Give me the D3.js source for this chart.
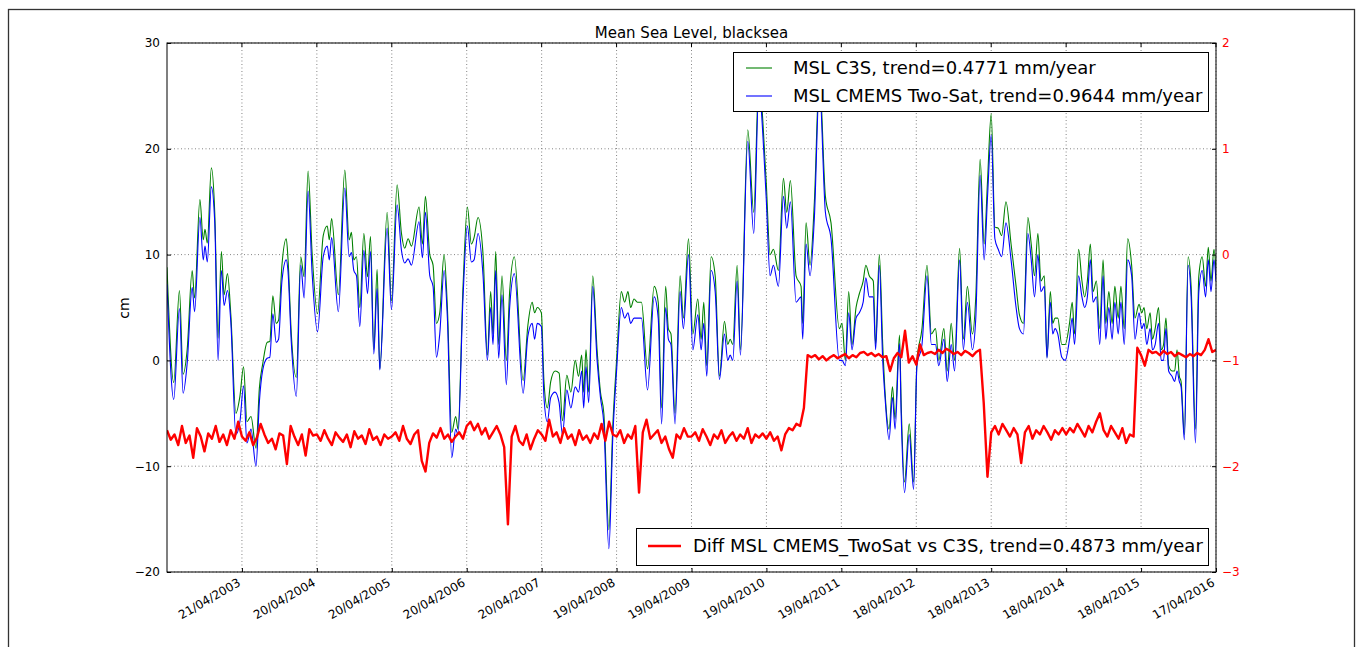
<!DOCTYPE html>
<html>
<head>
<meta charset="utf-8">
<script src="https://cdn.jsdelivr.net/npm/d3@7"></script>
<style>
  body { margin: 0; background: #ffffff; }
  text { font-family: 'DejaVu Sans', sans-serif; }
</style>
</head>
<body>
<div class="graph"></div>
<script>
// Time axis: first day and last day of the series, ticks every 365 days
const startLabel = '21/04/2002'
const endLabel = '17/04/2016'
const tickLabels = ['21/04/2003', '20/04/2004', '20/04/2005', '20/04/2006', '20/04/2007',
  '19/04/2008', '19/04/2009', '19/04/2010', '19/04/2011', '18/04/2012',
  '18/04/2013', '18/04/2014', '18/04/2015', '17/04/2016']
const cmTicks = [-20, -10, 0, 10, 20, 30]
const diffTicks = [-3, -2, -1, 0, 1, 2]

// [years of 365 days since start, cm]
const c3sData = [
  [0.000, 8.8], [0.090, -2.1], [0.166, 6.6], [0.215, -1.3], [0.269, 1.0], [0.336, 8.5], [0.368, 5.9],
  [0.439, 15.2], [0.484, 11.4], [0.507, 12.4], [0.538, 11.1], [0.592, 18.2], [0.637, 14.0], [0.682, 2.1],
  [0.726, 10.3], [0.762, 6.2], [0.807, 8.2], [0.852, 4.3], [0.919, -5.0], [0.973, -3.4], [1.022, -0.6],
  [1.067, -5.8], [1.121, -5.3], [1.188, -8.3], [1.233, -2.6], [1.278, -0.3], [1.336, 1.7], [1.372, 1.8],
  [1.413, 6.1], [1.457, 3.5], [1.489, 3.8], [1.534, 9.0], [1.592, 11.5], [1.614, 9.7], [1.659, 2.5],
  [1.726, -1.6], [1.785, 9.8], [1.830, 7.9], [1.883, 17.9], [1.937, 10.1], [2.009, 4.4], [2.085, 11.8],
  [2.139, 12.7], [2.166, 11.4], [2.197, 13.4], [2.287, 6.2], [2.373, 18.0], [2.431, 11.4], [2.462, 12.1],
  [2.493, 9.5], [2.529, 9.8], [2.573, 5.0], [2.627, 12.0], [2.676, 7.9], [2.716, 11.7], [2.760, 1.0],
  [2.804, 8.6], [2.840, -0.8], [2.938, 14.0], [2.996, 5.6], [3.071, 16.6], [3.129, 12.0], [3.173, 10.6],
  [3.218, 11.5], [3.262, 10.8], [3.364, 14.5], [3.409, 11.0], [3.449, 15.5], [3.507, 10.0], [3.551, 9.0],
  [3.596, 3.5], [3.640, 4.5], [3.698, 10.0], [3.742, 5.0], [3.800, -6.8], [3.853, -5.3], [3.884, -6.5],
  [3.951, 7.0], [4.009, 14.5], [4.062, 11.0], [4.098, 11.6], [4.151, 13.5], [4.218, 10.0], [4.276, 0.5],
  [4.320, 6.5], [4.351, 2.5], [4.387, 10.3], [4.427, 1.5], [4.471, 8.0], [4.529, 0.0], [4.573, 6.5],
  [4.636, 9.8], [4.753, -1.9], [4.816, 3.3], [4.874, 5.5], [4.906, 4.5], [4.942, 5.0], [4.996, 4.5],
  [5.031, -2.0], [5.076, -4.5], [5.121, -2.0], [5.179, -1.0], [5.233, -1.2], [5.278, -5.7], [5.336, -1.4],
  [5.390, -3.0], [5.448, 0.0], [5.493, -1.5], [5.534, 0.5], [5.561, -3.0], [5.592, 1.0], [5.628, -3.0],
  [5.682, 8.0], [5.740, 1.0], [5.785, -3.0], [5.830, -5.0], [5.897, -16.0], [5.951, -6.0], [6.000, 0.0],
  [6.063, 6.5], [6.108, 5.5], [6.152, 6.5], [6.188, 5.0], [6.233, 5.8], [6.278, 5.5], [6.332, 5.5],
  [6.413, -0.8], [6.502, 7.0], [6.556, 5.5], [6.601, -4.5], [6.655, 7.0], [6.691, 3.0], [6.726, 2.5],
  [6.780, -5.0], [6.848, 8.0], [6.892, 4.0], [6.960, 11.5], [7.018, 2.5], [7.084, 5.8], [7.129, 2.0],
  [7.164, 5.5], [7.204, -0.5], [7.262, 9.8], [7.316, 8.0], [7.373, -1.5], [7.440, 3.7], [7.484, 1.5],
  [7.516, 2.0], [7.551, 1.5], [7.609, 9.0], [7.653, 1.0], [7.751, 21.8], [7.831, 14.0], [7.898, 26.5],
  [7.996, 17.0], [8.049, 10.0], [8.093, 10.5], [8.160, 8.5], [8.227, 17.2], [8.271, 14.0], [8.320, 17.0],
  [8.396, 8.0], [8.462, 7.0], [8.484, 3.5], [8.529, 13.0], [8.582, 9.0], [8.640, 15.0], [8.707, 27.0],
  [8.787, 15.5], [8.862, 13.0], [8.973, 3.0], [9.009, 3.5], [9.053, 0.0], [9.098, 6.5], [9.142, 1.5],
  [9.196, 5.0], [9.240, 6.3], [9.291, 7.5], [9.327, 9.0], [9.372, 8.0], [9.426, 7.5], [9.457, 1.5],
  [9.507, 10.0], [9.552, 1.5], [9.583, -3.0], [9.637, -6.5], [9.682, -2.5], [9.717, -5.5], [9.776, 2.4],
  [9.798, -4.0], [9.843, -11.5], [9.906, -6.0], [9.964, -11.5], [10.009, 0.0], [10.076, 3.0], [10.143, 9.0],
  [10.202, 2.5], [10.256, 3.0], [10.300, 0.0], [10.368, 3.0], [10.413, -1.0], [10.466, 3.5], [10.511, 0.0],
  [10.578, 10.6], [10.628, 2.0], [10.682, 7.0], [10.749, 2.5], [10.794, 6.0], [10.852, 19.0], [10.906, 11.0],
  [10.951, 17.0], [11.000, 23.3], [11.049, 12.6], [11.094, 12.5], [11.139, 11.8], [11.197, 15.0], [11.265, 11.0],
  [11.332, 7.0], [11.377, 4.3], [11.430, 3.5], [11.489, 13.5], [11.534, 11.0], [11.578, 8.0], [11.623, 12.0],
  [11.664, 7.5], [11.709, 8.0], [11.744, 0.3], [11.789, 6.5], [11.821, 3.5], [11.852, 4.0], [11.888, 4.0],
  [11.942, 1.5], [11.987, 1.5], [12.045, 3.5], [12.081, 5.5], [12.112, 2.5], [12.166, 10.5], [12.211, 7.5],
  [12.247, 6.0], [12.283, 7.5], [12.323, 11.0], [12.359, 6.5], [12.404, 7.5], [12.448, 3.0], [12.493, 9.5],
  [12.529, 3.5], [12.570, 6.5], [12.614, 3.5], [12.650, 7.0], [12.695, 4.0], [12.731, 7.0], [12.776, 3.0],
  [12.821, 11.5], [12.874, 9.0], [12.919, 4.0], [12.973, 5.3], [13.009, 4.5], [13.040, 5.0], [13.076, 3.0],
  [13.121, 4.5], [13.152, 2.0], [13.188, 3.0], [13.233, 5.0], [13.269, 1.0], [13.300, 1.5], [13.332, 4.0],
  [13.368, -0.5], [13.413, -1.0], [13.448, -1.0], [13.480, 1.0], [13.511, -1.5], [13.534, -2.0], [13.578, -7.0],
  [13.628, 9.8], [13.668, 7.0], [13.726, -6.5], [13.771, 8.0], [13.816, 9.8], [13.861, 7.0], [13.897, 10.7],
  [13.933, 7.5], [13.973, 10.5], [14.000, 8.5]
]

const cmemsData = [
  [0.000, 7.2], [0.090, -3.7], [0.166, 4.9], [0.215, -3.1], [0.269, -0.3], [0.336, 6.9], [0.368, 4.6],
  [0.439, 13.5], [0.484, 9.5], [0.507, 10.8], [0.538, 9.3], [0.592, 16.4], [0.637, 13.1], [0.682, 0.0],
  [0.726, 8.5], [0.762, 5.2], [0.807, 6.6], [0.852, 3.6], [0.919, -7.0], [0.973, -5.8], [1.022, -2.4],
  [1.067, -7.8], [1.121, -6.5], [1.188, -10.0], [1.233, -3.9], [1.278, -0.9], [1.336, 0.2], [1.372, 0.3],
  [1.413, 4.4], [1.457, 1.7], [1.489, 2.0], [1.534, 7.5], [1.592, 9.5], [1.614, 8.5], [1.659, 1.7],
  [1.726, -3.4], [1.785, 9.0], [1.830, 5.9], [1.883, 16.0], [1.937, 8.2], [2.009, 2.7], [2.085, 9.8],
  [2.139, 10.8], [2.166, 9.5], [2.197, 11.6], [2.287, 4.6], [2.373, 16.3], [2.431, 9.8], [2.462, 10.2],
  [2.493, 8.5], [2.529, 8.0], [2.573, 3.2], [2.627, 10.4], [2.676, 6.3], [2.716, 10.3], [2.760, 0.6],
  [2.804, 6.8], [2.840, -0.9], [2.938, 12.5], [2.996, 4.8], [3.071, 14.7], [3.129, 10.4], [3.173, 9.2],
  [3.218, 9.6], [3.262, 9.0], [3.364, 13.1], [3.409, 9.7], [3.449, 14.0], [3.507, 8.0], [3.551, 7.0],
  [3.596, 0.3], [3.640, 2.5], [3.698, 8.5], [3.742, 4.0], [3.800, -9.2], [3.853, -6.5], [3.884, -7.0],
  [3.951, 6.0], [4.009, 12.7], [4.062, 9.3], [4.098, 9.5], [4.151, 12.0], [4.218, 8.0], [4.276, 0.0],
  [4.320, 5.0], [4.351, 1.5], [4.387, 8.5], [4.427, 0.2], [4.471, 6.2], [4.529, -2.3], [4.573, 5.0],
  [4.636, 8.2], [4.753, -3.1], [4.816, 2.3], [4.874, 3.5], [4.906, 2.0], [4.942, 3.5], [4.996, 3.2],
  [5.031, -3.5], [5.076, -5.8], [5.121, -3.5], [5.179, -3.0], [5.233, -4.0], [5.278, -7.0], [5.336, -2.8],
  [5.390, -4.5], [5.448, -2.5], [5.493, -3.0], [5.534, -1.0], [5.561, -4.5], [5.592, -0.6], [5.628, -4.0],
  [5.682, 7.0], [5.740, 0.0], [5.785, -3.5], [5.830, -6.0], [5.897, -17.8], [5.951, -7.0], [6.000, -1.0],
  [6.063, 5.0], [6.108, 4.0], [6.152, 4.5], [6.188, 3.5], [6.233, 4.0], [6.278, 4.0], [6.332, 4.0],
  [6.413, -2.8], [6.502, 6.0], [6.556, 4.0], [6.601, -6.0], [6.655, 5.0], [6.691, 2.0], [6.726, 1.5],
  [6.780, -6.0], [6.848, 6.5], [6.892, 3.0], [6.960, 10.0], [7.018, 1.0], [7.084, 4.3], [7.129, 1.0],
  [7.164, 3.5], [7.204, -1.5], [7.262, 8.5], [7.316, 6.5], [7.373, -1.8], [7.440, 2.5], [7.484, 0.0],
  [7.516, 0.5], [7.551, 0.0], [7.609, 7.5], [7.653, 0.5], [7.751, 20.7], [7.831, 12.0], [7.898, 25.5],
  [7.996, 15.5], [8.049, 8.0], [8.093, 9.0], [8.160, 7.0], [8.227, 15.5], [8.271, 12.5], [8.320, 15.0],
  [8.396, 5.5], [8.462, 6.0], [8.484, 2.0], [8.529, 11.0], [8.582, 8.0], [8.640, 13.5], [8.707, 26.0],
  [8.787, 14.0], [8.862, 11.5], [8.973, 0.0], [9.009, 0.0], [9.053, -0.5], [9.098, 4.5], [9.142, 1.0],
  [9.196, 4.0], [9.240, 4.5], [9.291, 5.5], [9.327, 7.8], [9.372, 6.0], [9.426, 6.0], [9.457, 1.0],
  [9.507, 9.0], [9.552, 0.0], [9.583, -3.5], [9.637, -7.5], [9.682, -3.5], [9.717, -6.5], [9.776, 1.6],
  [9.798, -5.0], [9.843, -12.5], [9.906, -7.0], [9.964, -12.2], [10.009, -0.5], [10.076, 1.5], [10.143, 8.0],
  [10.202, 1.5], [10.256, 1.5], [10.300, -0.5], [10.368, 2.0], [10.413, -2.0], [10.466, 1.5], [10.511, -1.0],
  [10.578, 9.5], [10.628, 1.0], [10.682, 5.5], [10.749, 1.0], [10.794, 4.0], [10.852, 17.5], [10.906, 9.5],
  [10.951, 15.5], [11.000, 21.3], [11.049, 11.5], [11.094, 10.5], [11.139, 9.8], [11.197, 13.0], [11.265, 9.5],
  [11.332, 5.0], [11.377, 3.0], [11.430, 2.5], [11.489, 12.0], [11.534, 9.5], [11.578, 6.0], [11.623, 10.0],
  [11.664, 6.5], [11.709, 7.0], [11.744, 0.2], [11.789, 5.5], [11.821, 2.5], [11.852, 3.0], [11.888, 2.5],
  [11.942, 0.3], [11.987, 0.0], [12.045, 2.0], [12.081, 4.0], [12.112, 1.5], [12.166, 8.0], [12.211, 6.0],
  [12.247, 5.0], [12.283, 6.0], [12.323, 9.5], [12.359, 5.5], [12.404, 6.0], [12.448, 1.5], [12.493, 8.0],
  [12.529, 2.0], [12.570, 5.0], [12.614, 2.0], [12.650, 5.5], [12.695, 2.5], [12.731, 5.5], [12.776, 1.5],
  [12.821, 9.5], [12.874, 8.0], [12.919, 2.0], [12.973, 4.5], [13.009, 3.0], [13.040, 3.5], [13.076, 1.5],
  [13.121, 3.0], [13.152, 1.0], [13.188, 1.5], [13.233, 3.5], [13.269, 0.0], [13.300, 0.0], [13.332, 3.0],
  [13.368, -1.0], [13.413, -1.5], [13.448, -2.0], [13.480, -1.0], [13.511, -2.0], [13.534, -2.5], [13.578, -7.5],
  [13.628, 9.0], [13.668, 6.0], [13.726, -7.8], [13.771, 6.5], [13.816, 8.5], [13.861, 6.0], [13.897, 9.5],
  [13.933, 6.5], [13.973, 9.5], [14.000, 7.5]
]

// difference series, one value every 0.05 year of 365 days from the start
const diffStep = 0.05
const diffValues = [
  -1.66, -1.75, -1.70, -1.80, -1.62, -1.78, -1.71, -1.92, -1.64, -1.72, -1.86, -1.69, -1.74, -1.62, -1.77, -1.70, -1.80, -1.66, -1.74, -1.58,
  -1.72, -1.76, -1.68, -1.80, -1.73, -1.60, -1.70, -1.78, -1.74, -1.84, -1.69, -1.71, -1.98, -1.62, -1.72, -1.80, -1.70, -1.90, -1.65, -1.71,
  -1.70, -1.76, -1.66, -1.74, -1.80, -1.68, -1.73, -1.77, -1.70, -1.82, -1.67, -1.74, -1.71, -1.79, -1.65, -1.75, -1.72, -1.80, -1.70, -1.74,
  -1.72, -1.68, -1.76, -1.62, -1.74, -1.79, -1.70, -1.66, -1.95, -2.05, -1.78, -1.69, -1.73, -1.64, -1.74, -1.70, -1.77, -1.72, -1.68, -1.74,
  -1.62, -1.58, -1.66, -1.60, -1.70, -1.64, -1.74, -1.68, -1.62, -1.70, -1.82, -2.55, -1.72, -1.62, -1.76, -1.80, -1.70, -1.84, -1.74, -1.66,
  -1.70, -1.76, -1.56, -1.72, -1.68, -1.78, -1.64, -1.74, -1.70, -1.80, -1.66, -1.75, -1.71, -1.78, -1.69, -1.74, -1.60, -1.76, -1.58, -1.70,
  -1.72, -1.66, -1.78, -1.70, -1.74, -1.62, -2.25, -1.68, -1.56, -1.74, -1.70, -1.66, -1.78, -1.72, -1.84, -1.92, -1.70, -1.74, -1.64, -1.72,
  -1.72, -1.68, -1.76, -1.65, -1.72, -1.80, -1.70, -1.74, -1.66, -1.78, -1.72, -1.68, -1.76, -1.70, -1.74, -1.64, -1.78, -1.70, -1.73, -1.69,
  -1.74, -1.68, -1.76, -1.72, -1.85, -1.70, -1.64, -1.66, -1.60, -1.62, -1.45, -0.95, -0.97, -0.95, -0.99, -0.96, -1.00, -0.97, -0.95, -0.98,
  -0.96, -0.94, -0.98, -0.95, -0.97, -0.93, -0.92, -0.95, -0.93, -0.96, -0.94, -0.97, -0.96, -1.10, -0.98, -0.93, -0.97, -0.72, -1.02, -0.96,
  -1.04, -0.85, -0.95, -0.93, -0.92, -0.94, -0.90, -0.93, -0.89, -0.91, -0.94, -0.92, -0.95, -0.91, -0.93, -0.96, -0.92, -0.90, -1.40, -2.10,
  -1.68, -1.62, -1.70, -1.60, -1.66, -1.72, -1.64, -1.70, -1.97, -1.68, -1.62, -1.74, -1.66, -1.70, -1.62, -1.68, -1.75, -1.66, -1.70, -1.64,
  -1.70, -1.64, -1.68, -1.60, -1.66, -1.72, -1.62, -1.68, -1.58, -1.50, -1.66, -1.72, -1.62, -1.68, -1.74, -1.64, -1.78, -1.70, -1.72, -0.88,
  -0.95, -1.05, -0.90, -0.93, -0.92, -0.95, -0.91, -0.94, -0.92, -0.96, -0.93, -0.95, -0.97, -0.94, -0.96, -0.93, -0.95, -0.90, -0.80, -0.92,
  -0.90
]

const legendTop = [
  { label: 'MSL C3S, trend=0.4771 mm/year', color: '#008000' },
  { label: 'MSL CMEMS Two-Sat, trend=0.9644 mm/year', color: '#0000ff' }
]
const legendBottom = [
  { label: 'Diff MSL CMEMS_TwoSat vs C3S, trend=0.4873 mm/year', color: '#ff0000' }
]

const width = 1357
const height = 647
const plot = { left: 167, right: 1216, top: 43, bottom: 572 }

const parseDate = d3.utcParse('%d/%m/%Y')
const startDate = parseDate(startLabel)
const endDate = parseDate(endLabel)
const dayMs = 864e5

/**
 * Converts a position in years of 365 days since the start into a date.
 *
 * @param {number} yr Years since start
 * @returns {Date} The date
 */
function yearsToDate (yr) {
  return new Date(startDate.getTime() + yr * 365 * dayMs)
}

const svg = d3.select('.graph')
  .append('svg')
  .attr('width', width)
  .attr('height', height)

svg.append('rect')
  .attr('width', width)
  .attr('height', height)
  .attr('fill', '#ffffff')

// figure frame
svg.append('rect')
  .attr('x', 8.5)
  .attr('y', 9.5)
  .attr('width', 1346)
  .attr('height', 700)
  .attr('fill', 'none')
  .attr('stroke', '#333333')
  .attr('stroke-width', 1.3)

const x = d3.scaleUtc().domain([startDate, endDate]).range([plot.left, plot.right])
const yLeft = d3.scaleLinear().domain([-20, 30]).range([plot.bottom, plot.top])
const yRight = d3.scaleLinear().domain([-3, 2]).range([plot.bottom, plot.top])

svg.append('defs').append('clipPath')
  .attr('id', 'plot-clip')
  .append('rect')
  .attr('x', plot.left)
  .attr('y', plot.top)
  .attr('width', plot.right - plot.left)
  .attr('height', plot.bottom - plot.top)

// grid
const grid = svg.append('g')
  .attr('stroke', '#666666')
  .attr('stroke-width', 0.8)
  .attr('stroke-dasharray', '1,2.5')

grid.selectAll('.vgrid')
  .data(tickLabels.map(parseDate))
  .join('line')
  .attr('class', 'vgrid')
  .attr('x1', (d) => x(d))
  .attr('x2', (d) => x(d))
  .attr('y1', plot.top)
  .attr('y2', plot.bottom)

grid.selectAll('.hgrid')
  .data(cmTicks)
  .join('line')
  .attr('class', 'hgrid')
  .attr('x1', plot.left)
  .attr('x2', plot.right)
  .attr('y1', (d) => yLeft(d))
  .attr('y2', (d) => yLeft(d))

const lines = svg.append('g').attr('clip-path', 'url(#plot-clip)')

const cmLine = d3.line()
  .x((d) => x(yearsToDate(d[0])))
  .y((d) => yLeft(d[1]))
  .curve(d3.curveMonotoneX)

lines.append('path')
  .datum(c3sData)
  .attr('d', cmLine)
  .attr('fill', 'none')
  .attr('stroke', '#008000')
  .attr('stroke-width', 1.1)

lines.append('path')
  .datum(cmemsData)
  .attr('d', cmLine)
  .attr('fill', 'none')
  .attr('stroke', '#0000ff')
  .attr('stroke-width', 1.1)

/**
 * Draws a legend box with one row per entry.
 *
 * @param {object} box Position and size of the box
 * @param {Array} entries The legend entries
 * @param {number} lineWidth Stroke width of the sample line
 */
function drawLegend (box, entries, lineWidth) {
  const g = svg.append('g')
  g.append('rect')
    .attr('x', box.x + 0.5)
    .attr('y', box.y + 0.5)
    .attr('width', box.w)
    .attr('height', box.h)
    .attr('fill', '#ffffff')
    .attr('stroke', '#000000')
    .attr('stroke-width', 1)
  entries.forEach((e, i) => {
    const cy = box.y + box.first + i * box.step
    g.append('line')
      .attr('x1', box.x + box.lineX0)
      .attr('x2', box.x + box.lineX1)
      .attr('y1', cy)
      .attr('y2', cy)
      .attr('stroke', e.color)
      .attr('stroke-width', lineWidth)
    g.append('text')
      .text(e.label)
      .attr('x', box.x + box.textX)
      .attr('y', cy)
      .attr('dy', '0.36em')
      .attr('font-size', 18)
      .attr('fill', '#000000')
  })
}

drawLegend({ x: 733, y: 52, w: 475, h: 59, first: 16, step: 28, lineX0: 13, lineX1: 39, textX: 60 }, legendTop, 1.1)

lines.append('path')
  .datum(diffValues)
  .attr('d', d3.line()
    .x((d, i) => x(yearsToDate(i * diffStep)))
    .y((d) => yRight(d)))
  .attr('fill', 'none')
  .attr('stroke', '#ff0000')
  .attr('stroke-width', 2.4)
  .attr('stroke-linejoin', 'round')

drawLegend({ x: 636, y: 528, w: 572, h: 37, first: 18, step: 0, lineX0: 12, lineX1: 45, textX: 57 }, legendBottom, 2.4)

// axes
const xAxis = svg.append('g')
  .attr('transform', `translate(0, ${plot.bottom})`)
  .call(d3.axisBottom(x)
    .tickValues(tickLabels.map(parseDate))
    .tickFormat((d, i) => tickLabels[i])
    .tickSizeInner(-4)
    .tickSizeOuter(0)
    .tickPadding(0))
xAxis.select('.domain').remove()
xAxis.selectAll('text')
  .attr('x', 0)
  .attr('y', 0)
  .attr('dy', 0)
  .attr('transform', 'translate(-1, 13) rotate(-30)')
  .attr('text-anchor', 'end')
  .attr('font-size', 12)
  .attr('font-family', 'DejaVu Sans')
  .attr('fill', '#000000')

svg.append('g')
  .selectAll('line')
  .data(tickLabels.map(parseDate))
  .join('line')
  .attr('x1', (d) => x(d))
  .attr('x2', (d) => x(d))
  .attr('y1', plot.top)
  .attr('y2', plot.top + 4)
  .attr('stroke', '#000000')

const leftAxis = svg.append('g')
  .attr('transform', `translate(${plot.left}, 0)`)
  .call(d3.axisLeft(yLeft)
    .tickValues(cmTicks)
    .tickFormat(d3.format('d'))
    .tickSizeInner(-4)
    .tickSizeOuter(0)
    .tickPadding(7))
leftAxis.select('.domain').remove()
leftAxis.selectAll('text')
  .attr('font-size', 12)
  .attr('font-family', 'DejaVu Sans')

const rightAxis = svg.append('g')
  .attr('transform', `translate(${plot.right}, 0)`)
  .call(d3.axisRight(yRight)
    .tickValues(diffTicks)
    .tickFormat(d3.format('d'))
    .tickSizeInner(-4)
    .tickSizeOuter(0)
    .tickPadding(6))
rightAxis.select('.domain').remove()
rightAxis.selectAll('text')
  .attr('font-size', 12)
  .attr('font-family', 'DejaVu Sans')
  .attr('fill', '#ff0000')

svg.append('rect')
  .attr('x', plot.left)
  .attr('y', plot.top)
  .attr('width', plot.right - plot.left)
  .attr('height', plot.bottom - plot.top)
  .attr('fill', 'none')
  .attr('stroke', '#000000')
  .attr('stroke-width', 1)

// labels
svg.append('text')
  .text('Mean Sea Level, blacksea')
  .attr('x', (plot.left + plot.right) / 2)
  .attr('y', 38)
  .attr('text-anchor', 'middle')
  .attr('font-size', 15)
  .attr('fill', '#000000')

svg.append('text')
  .text('cm')
  .attr('text-anchor', 'middle')
  .attr('font-size', 14)
  .attr('fill', '#000000')
  .attr('transform', 'translate(129, 308) rotate(-90)')
</script>
</body>
</html>
